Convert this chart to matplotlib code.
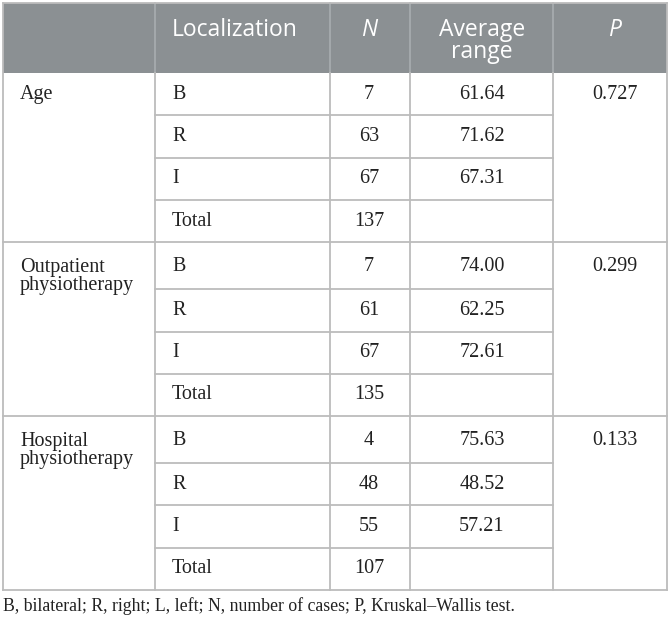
import matplotlib
matplotlib.use('Agg')
import matplotlib.pyplot as plt
from matplotlib.patches import Rectangle

# ---- table data ----
header_labels = ['', 'Localization', 'N', 'Average\nrange', 'P']
groups = ['Age', 'Outpatient\nphysiotherapy', 'Hospital\nphysiotherapy']
localizations = ['B', 'R', 'I', 'Total']
n_values = [[7, 63, 67, 137], [7, 61, 67, 135], [4, 48, 55, 107]]
avg_range = [['61.64', '71.62', '67.31', ''],
             ['74.00', '62.25', '72.61', ''],
             ['75.63', '48.52', '57.21', '']]
p_values = ['0.727', '0.299', '0.133']
footnote = 'B, bilateral; R, right; L, left; N, number of cases; P, Kruskal\u2013Wallis test.'

# ---- layout (pixels) ----
W, H = 670, 620
col_x = [3, 155, 330, 410, 553, 667]
header_top, header_bot = 3, 73
row_h = 42.3
first_row_h = [42.3, 47, 47]   # two-line group labels make the first row taller
HEAD_BG = '#8b9093'
LINE = '#bcbcbc'
TXT = '#222222'

fig = plt.figure(figsize=(W / 100, H / 100), dpi=100)
ax = fig.add_axes([0, 0, 1, 1])
ax.set_xlim(0, W)
ax.set_ylim(H, 0)
ax.axis('off')

head_font = dict(family='Open Sans', fontsize=16.5, color='white')
body_font = dict(family='Liberation Serif', fontsize=14.5, color=TXT)

# header
ax.add_patch(Rectangle((col_x[0], header_top), col_x[-1] - col_x[0], header_bot - header_top,
                       facecolor=HEAD_BG, edgecolor='none'))
for i in range(1, 5):
    ax.plot([col_x[i], col_x[i]], [header_top, header_bot], color='#a9adb0', lw=1.2)
ax.text(172, 29.5, header_labels[1], ha='left', va='center', **head_font)
ax.text(369, 29.5, header_labels[2], ha='center', va='center', style='italic', **head_font)
ax.text(482, 41, header_labels[3], ha='center', va='center', linespacing=0.92, **head_font)
ax.text(615, 29.5, header_labels[4], ha='center', va='center', style='italic', **head_font)

# body
y = header_bot
for g, grp in enumerate(groups):
    g_top = y
    heights = [first_row_h[g]] + [row_h] * (len(localizations) - 1)
    for r, loc in enumerate(localizations):
        top, bot = y, y + heights[r]
        cy = (top + bot) / 2
        if g > 0 and r == 0:
            cy = top + 24
        ax.text(172, cy, loc, ha='left', va='center', **body_font)
        ax.text(369, cy, str(n_values[g][r]), ha='center', va='center', **body_font)
        ax.text(482, cy, avg_range[g][r], ha='center', va='center', **body_font)
        if r == 0:
            if g == 0:
                ax.text(20, cy, grp, ha='left', va='center', **body_font)
            else:
                ax.text(20, top + 15.5, grp, ha='left', va='top', linespacing=0.98, **body_font)
            ax.text(615, cy, p_values[g], ha='center', va='center', **body_font)
        # row separator inside loc/N/range columns
        if r < len(localizations) - 1:
            ax.plot([col_x[1], col_x[4]], [bot, bot], color=LINE, lw=1.3)
        y = bot
    # group separator across the whole table
    ax.plot([col_x[0], col_x[-1]], [y, y], color=LINE, lw=1.3)
    for i in range(1, 5):
        ax.plot([col_x[i], col_x[i]], [g_top, y], color=LINE, lw=1.3)

# outer border
ax.plot([col_x[0], col_x[0]], [header_top, y], color=LINE, lw=1.3)
ax.plot([col_x[-1], col_x[-1]], [header_top, y], color=LINE, lw=1.3)
ax.plot([col_x[0], col_x[-1]], [header_top, header_top], color=LINE, lw=1.3)

ax.text(3, y + 16, footnote, ha='left', va='center', family='Liberation Serif',
        fontsize=12.8, color=TXT)

fig.savefig('out.png', dpi=100)
